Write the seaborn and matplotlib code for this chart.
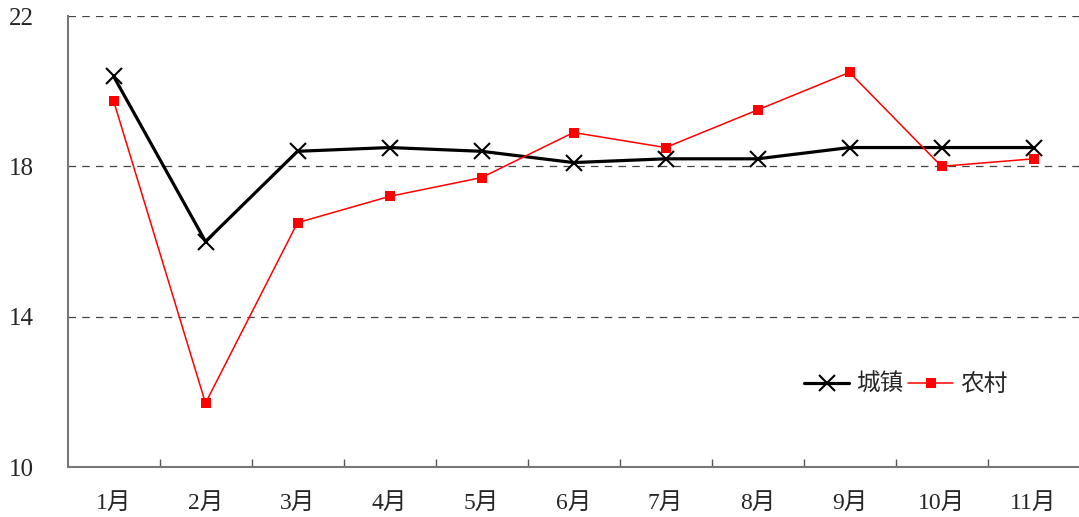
import seaborn as sns
import matplotlib.pyplot as plt
import pandas as pd

months = ['1月', '2月', '3月', '4月', '5月', '6月', '7月', '8月', '9月', '10月', '11月']
chengzhen = [20.4, 16.0, 18.4, 18.5, 18.4, 18.1, 18.2, 18.2, 18.5, 18.5, 18.5]
nongcun = [19.75, 11.7, 16.5, 17.2, 17.7, 18.9, 18.5, 19.5, 20.5, 18.0, 18.2]
yticks = [10, 14, 18, 22]

sns.set_style('white')
plt.rcParams['font.family'] = ['Liberation Serif', 'Noto Sans CJK SC']

df = pd.DataFrame({'月份': months, '城镇': chengzhen, '农村': nongcun})

fig = plt.figure(figsize=(10.79, 5.17), dpi=100)
ax = fig.add_axes([67.5 / 1079, 50 / 517, 1012 / 1079, 451 / 517])

sns.lineplot(data=df, x='月份', y='城镇', ax=ax, color='black', linewidth=2.3,
             marker='x', markersize=11, markeredgewidth=1.5, markeredgecolor='black',
             label='城镇', sort=False)
sns.lineplot(data=df, x='月份', y='农村', ax=ax, color='#ff0000', linewidth=1.1,
             marker='s', markersize=6.5, markeredgewidth=0, markerfacecolor='#ff0000',
             label='农村', sort=False)

ax.set_xlim(-0.5, len(months) - 0.5)
ax.set_ylim(10, 22)
ax.set_yticks(yticks)
ax.set_yticklabels([str(v) for v in yticks], fontsize=18)
ax.set_xticks(range(len(months)))
ax.set_xticklabels(months, fontsize=17)
ax.set_xticks([i + 0.5 for i in range(len(months) - 1)], minor=True)
ax.tick_params(axis='x', which='major', length=0, pad=19)
ax.tick_params(axis='x', which='minor', bottom=True, length=6, width=1,
               color='#555555', direction='in')
ax.tick_params(axis='y', length=0, pad=24)
ax.set_xlabel('')
ax.set_ylabel('')

for y in [14, 18, 22]:
    ax.axhline(y, color='#444444', linestyle=(0, (6, 5)), linewidth=0.9, zorder=0)

for s in ['top', 'right']:
    ax.spines[s].set_visible(False)
for s in ['left', 'bottom']:
    ax.spines[s].set_color('#777777')
    ax.spines[s].set_linewidth(1.5)

ax.legend(loc='center', bbox_to_anchor=(906 / 1079, 1 - 385 / 517),
          bbox_transform=fig.transFigure, frameon=False, ncol=2, fontsize=17,
          handlelength=1.9, columnspacing=0.2, handletextpad=0.3)

fig.savefig('out.png', dpi=100)
